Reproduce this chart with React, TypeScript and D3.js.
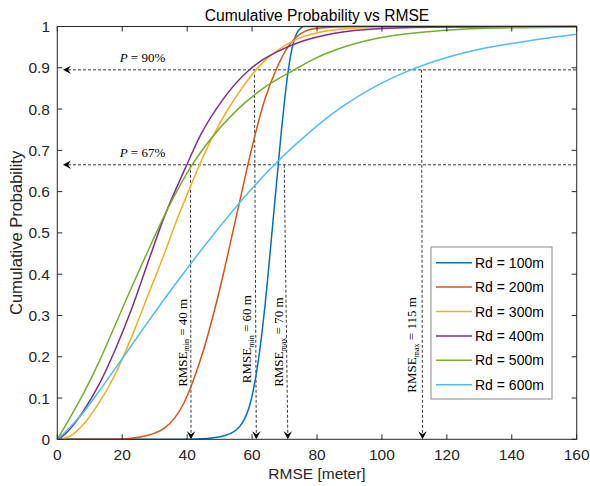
import React from "react";
import * as d3 from "d3";

const W = 590, H = 486;
const M = { left: 57.3, right: 576.7, top: 26.5, bottom: 439.3 };

const xTicks = [0, 20, 40, 60, 80, 100, 120, 140, 160];
const yTicks = [0, 0.1, 0.2, 0.3, 0.4, 0.5, 0.6, 0.7, 0.8, 0.9, 1];
const yTickLabels = ["0", "0.1", "0.2", "0.3", "0.4", "0.5", "0.6", "0.7", "0.8", "0.9", "1"];

const seriesNames = ["Rd = 100m", "Rd = 200m", "Rd = 300m", "Rd = 400m", "Rd = 500m", "Rd = 600m"];
const seriesColors = ["#0072BD", "#D95319", "#EDB120", "#7E2F8E", "#77AC30", "#4DBEEE"];

const x100 = [0, 40, 46, 50, 53, 55, 57, 58, 59, 60, 61, 62, 63, 64, 65, 66, 67, 68, 69, 70, 71, 72, 73, 74, 75, 76, 80, 160];
const p100 = [0, 0, 0.002, 0.006, 0.013, 0.022, 0.04, 0.055, 0.075, 0.105, 0.145, 0.195, 0.255, 0.325, 0.405, 0.49, 0.575, 0.66, 0.745, 0.82, 0.885, 0.935, 0.968, 0.987, 0.996, 1, 1, 1];

const x200 = [0, 15, 20, 25, 30, 33, 36, 39, 42, 45, 48, 51, 54, 57, 59, 61, 64, 67.5, 71, 75, 80, 90, 160];
const p200 = [0, 0, 0.001, 0.005, 0.015, 0.027, 0.05, 0.088, 0.145, 0.215, 0.3, 0.395, 0.5, 0.605, 0.675, 0.74, 0.825, 0.897, 0.95, 0.983, 0.996, 1, 1];

const x300 = [0, 4, 8, 13, 18, 23, 28, 33, 37, 41, 44, 48, 53, 57, 61, 64, 68, 72, 76, 82, 90, 100, 160];
const p300 = [0, 0.008, 0.036, 0.09, 0.16, 0.25, 0.35, 0.45, 0.535, 0.612, 0.668, 0.735, 0.805, 0.852, 0.893, 0.918, 0.943, 0.962, 0.976, 0.988, 0.995, 0.998, 1];

const x400 = [0, 2, 5, 8, 13, 18, 23, 28, 33, 39.5, 44, 51, 59, 63, 67.5, 75, 85, 100, 120, 160];
const p400 = [0, 0.01, 0.035, 0.068, 0.135, 0.22, 0.318, 0.43, 0.54, 0.658, 0.735, 0.823, 0.894, 0.918, 0.938, 0.963, 0.983, 0.995, 0.999, 1];

const x500 = [0, 3, 8, 13, 18, 23, 27, 34, 41, 47, 55, 64.5, 73, 79, 89, 99, 115, 130, 160];
const p500 = [0, 0.04, 0.11, 0.19, 0.28, 0.37, 0.44, 0.558, 0.658, 0.725, 0.795, 0.856, 0.895, 0.921, 0.952, 0.972, 0.988, 0.995, 0.999];

const x600 = [0, 3, 8, 13, 18, 23, 28, 38, 48, 58, 68, 78, 88, 98, 108, 120, 130, 145, 160];
const p600 = [0, 0.022, 0.065, 0.118, 0.173, 0.229, 0.285, 0.393, 0.495, 0.59, 0.674, 0.746, 0.807, 0.855, 0.892, 0.925, 0.945, 0.965, 0.981];

const seriesX = [x100, x200, x300, x400, x500, x600];
const seriesP = [p100, p200, p300, p400, p500, p600];

// probability guide lines
const hLevels = [0.895, 0.665];
const hLabels = ["90%", "67%"];
const hArrowX = 1.75;

// vertical guide lines: top x, bottom x, top level, label
const vTopX = [41.0, 60.7, 69.9, 112.2];
const vBotX = [41.2, 61.3, 71.0, 112.5];
const vTopP = [0.665, 0.895, 0.665, 0.895];
const vSub = ["min", "min", "max", "max"];
const vVal = ["40", "60", "70", "115"];
const vLabelX = [39.8, 59.8, 69.6, 110.5];
const vLabelP = [0.127, 0.136, 0.127, 0.113];

export default function App() {
  const x = d3.scaleLinear().domain([0, 160]).range([M.left, M.right]);
  const y = d3.scaleLinear().domain([0, 1]).range([M.bottom, M.top]);
  const axisColor = "#262626";
  const tickLen = 5;
  const sans = "Arial, 'Liberation Sans', Helvetica, sans-serif";
  const serif = "'Times New Roman', 'Liberation Serif', serif";
  const guide = "#3a3a3a";

  const lines = seriesX.map((xs, i) =>
    d3
      .line<number>()
      .x((_, k) => x(xs[k]))
      .y((d) => y(d))
      .curve(d3.curveMonotoneX)(seriesP[i]) as string
  );

  const legX = 431, legY = 247, legW = 121, legH = 152;
  const rowY = (i: number) => 262.7 + i * 24.4;

  const arrowDown = (cx: number, cy: number) =>
    `M${cx},${cy} L${cx - 4.2},${cy - 8} L${cx},${cy - 5} L${cx + 4.2},${cy - 8} Z`;
  const arrowLeft = (cx: number, cy: number) =>
    `M${cx},${cy} L${cx + 8},${cy - 4.2} L${cx + 5},${cy} L${cx + 8},${cy + 4.2} Z`;

  return (
    <svg
      width={W}
      height={H}
      style={{ position: "absolute", left: 0, top: 0, background: "#fff" }}
    >
      <rect x={0} y={0} width={W} height={H} fill="#fff" />
      {/* guide lines */}
      {hLevels.map((lv, i) => (
        <g key={"h" + i}>
          <line
            x1={x(hArrowX) + 5}
            x2={M.right}
            y1={y(lv)}
            y2={y(lv)}
            stroke={guide}
            strokeWidth={1}
            strokeDasharray="3,2"
          />
          <path d={arrowLeft(x(hArrowX), y(lv))} fill="#000" />
        </g>
      ))}
      {vTopX.map((tx, i) => (
        <g key={"v" + i}>
          <line
            x1={x(tx)}
            x2={x(vBotX[i])}
            y1={y(vTopP[i])}
            y2={y(0) - 5}
            stroke={guide}
            strokeWidth={1}
            strokeDasharray="3,2"
          />
          <path d={arrowDown(x(vBotX[i]), y(0))} fill="#000" />
        </g>
      ))}
      {/* series */}
      {lines.map((d, i) => (
        <path key={"s" + i} d={d} fill="none" stroke={seriesColors[i]} strokeWidth={1.5} />
      ))}
      {/* axes */}
      <rect
        x={M.left}
        y={M.top}
        width={M.right - M.left}
        height={M.bottom - M.top}
        fill="none"
        stroke={axisColor}
        strokeWidth={1}
      />
      {xTicks.map((t) => (
        <g key={"xt" + t}>
          <line x1={x(t)} x2={x(t)} y1={M.bottom} y2={M.bottom - tickLen} stroke={axisColor} />
          <line x1={x(t)} x2={x(t)} y1={M.top} y2={M.top + tickLen} stroke={axisColor} />
          <text
            x={x(t)}
            y={460}
            textAnchor="middle"
            fontFamily={sans}
            fontSize={15.5}
            fill={axisColor}
          >
            {t}
          </text>
        </g>
      ))}
      {yTicks.map((t, i) => (
        <g key={"yt" + i}>
          <line x1={M.left} x2={M.left + tickLen} y1={y(t)} y2={y(t)} stroke={axisColor} />
          <line x1={M.right} x2={M.right - tickLen} y1={y(t)} y2={y(t)} stroke={axisColor} />
          <text
            x={50}
            y={y(t)}
            dy="0.36em"
            textAnchor="end"
            fontFamily={sans}
            fontSize={15.5}
            fill={axisColor}
          >
            {yTickLabels[i]}
          </text>
        </g>
      ))}
      {/* title and labels */}
      <text
        x={(M.left + M.right) / 2}
        y={20.5}
        textAnchor="middle"
        fontFamily={sans}
        fontSize={15.6}
        fill="#000"
      >
        Cumulative Probability vs RMSE
      </text>
      <text
        x={(M.left + M.right) / 2}
        y={478.5}
        textAnchor="middle"
        fontFamily={sans}
        fontSize={15.5}
        fill={axisColor}
      >
        RMSE [meter]
      </text>
      <text
        transform={`translate(21.5,${(M.top + M.bottom) / 2}) rotate(-90)`}
        textAnchor="middle"
        fontFamily={sans}
        fontSize={16.5}
        fill={axisColor}
      >
        Cumulative Probability
      </text>
      {/* P labels */}
      {hLevels.map((lv, i) => (
        <text
          key={"pl" + i}
          x={x(19.2)}
          y={y(lv) - 8}
          fontFamily={serif}
          fontSize={13}
          fill="#000"
        >
          <tspan fontStyle="italic">P</tspan>
          <tspan> = {hLabels[i]}</tspan>
        </text>
      ))}
      {/* vertical labels */}
      {vLabelX.map((lx, i) => (
        <text
          key={"vl" + i}
          transform={`translate(${x(lx)},${y(vLabelP[i])}) rotate(-90)`}
          fontFamily={serif}
          fontSize={13}
          fill="#000"
        >
          <tspan>RMSE</tspan>
          <tspan fontSize={8} dy={2.5}>{vSub[i]}</tspan>
          <tspan dy={-2.5}> = {vVal[i]} m</tspan>
        </text>
      ))}
      {/* legend */}
      <rect x={legX} y={legY} width={legW} height={legH} fill="#fff" stroke="#8a8a8a" strokeWidth={1} />
      {seriesNames.map((nm, i) => (
        <g key={"lg" + i}>
          <line x1={436} x2={472} y1={rowY(i)} y2={rowY(i)} stroke={seriesColors[i]} strokeWidth={1.5} />
          <text x={475} y={rowY(i)} dy="0.36em" fontFamily={sans} fontSize={14} fill="#000">
            {nm}
          </text>
        </g>
      ))}
    </svg>
  );
}
